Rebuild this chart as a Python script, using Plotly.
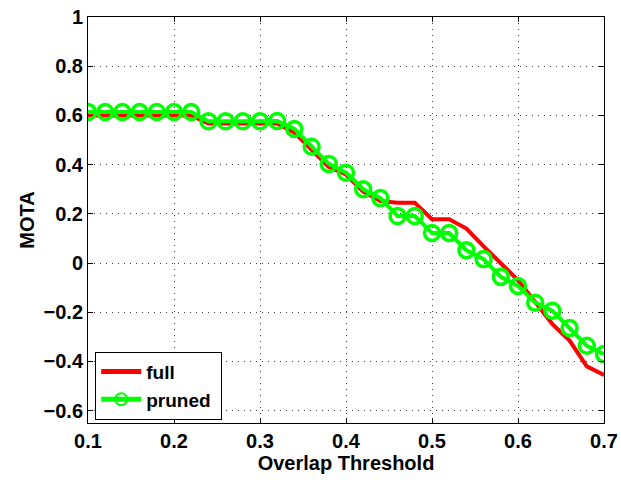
import plotly.graph_objects as go

# Overlap threshold values (x axis)
thresholds = [0.10, 0.12, 0.14, 0.16, 0.18, 0.20, 0.22, 0.24, 0.26, 0.28, 0.30,
              0.32, 0.34, 0.36, 0.38, 0.40, 0.42, 0.44, 0.46, 0.48, 0.50,
              0.52, 0.54, 0.56, 0.58, 0.60, 0.62, 0.64, 0.66, 0.68, 0.70]

# MOTA for the full model
mota_full = [0.600, 0.600, 0.600, 0.600, 0.600, 0.600, 0.600, 0.567, 0.567, 0.567, 0.567,
             0.567, 0.530, 0.460, 0.390, 0.360, 0.290, 0.252, 0.245, 0.245, 0.178,
             0.178, 0.140, 0.068, 0.000, -0.070, -0.158, -0.248, -0.315, -0.420, -0.455]

# MOTA for the pruned model
mota_pruned = [0.614, 0.614, 0.614, 0.614, 0.614, 0.614, 0.614, 0.576, 0.576, 0.576, 0.576,
               0.577, 0.545, 0.473, 0.403, 0.367, 0.300, 0.264, 0.191, 0.191, 0.122,
               0.122, 0.052, 0.016, -0.056, -0.093, -0.161, -0.194, -0.264, -0.336, -0.370]

x_ticks = [0.1, 0.2, 0.3, 0.4, 0.5, 0.6, 0.7]
y_ticks = [-0.6, -0.4, -0.2, 0, 0.2, 0.4, 0.6, 0.8, 1]
y_tick_labels = ["\u22120.6", "\u22120.4", "\u22120.2", "0", "0.2", "0.4", "0.6", "0.8", "1"]


def bold(s):
    return f"<b>{s}</b>"


font_family = "Liberation Sans, Arial, Helvetica, sans-serif"
tick_font = dict(family=font_family, size=20, color="black")
title_font = dict(family=font_family, size=20, color="black")

fig = go.Figure()
fig.add_trace(go.Scatter(
    x=thresholds, y=mota_full, name=bold("full"), mode="lines",
    line=dict(color="#ff0000", width=4),
))
fig.add_trace(go.Scatter(
    x=thresholds, y=mota_pruned, name=bold("pruned") + "&nbsp;", mode="lines+markers",
    line=dict(color="#00ff00", width=4),
    marker=dict(symbol="circle-open", size=15, color="#00ff00",
                line=dict(width=3.5, color="#00ff00")),
))

axis_common = dict(
    showline=True, linecolor="black", linewidth=1, mirror="ticks",
    ticks="inside", ticklen=5, tickcolor="black",
    showgrid=True, gridcolor="rgba(0,0,0,0.75)", gridwidth=1, griddash="1px,5px",
    zeroline=False, automargin=False,
    tickfont=tick_font,
)

fig.update_layout(
    width=621, height=480,
    margin=dict(l=88, r=17, t=17, b=57),
    paper_bgcolor="white", plot_bgcolor="white",
    font=dict(family=font_family, color="black"),
    xaxis=dict(
        range=[0.1, 0.7], tickvals=x_ticks,
        ticktext=[bold(f"{v:.1f}") for v in x_ticks],
        title=dict(text=bold("Overlap Threshold"), standoff=0, font=title_font),
        **axis_common,
    ),
    yaxis=dict(
        range=[-0.65, 1], tickvals=y_ticks,
        ticktext=[bold(t) for t in y_tick_labels],
        title=dict(text=bold("MOTA"), standoff=3, font=title_font),
        **axis_common,
    ),
    legend=dict(
        x=0.014, y=0.008, xanchor="left", yanchor="bottom",
        bgcolor="white", bordercolor="black", borderwidth=1,
        font=dict(family=font_family, size=19, color="black"),
        tracegroupgap=0, itemwidth=40, itemsizing="constant",
    ),
    showlegend=True,
)

fig.write_html("out.html")
